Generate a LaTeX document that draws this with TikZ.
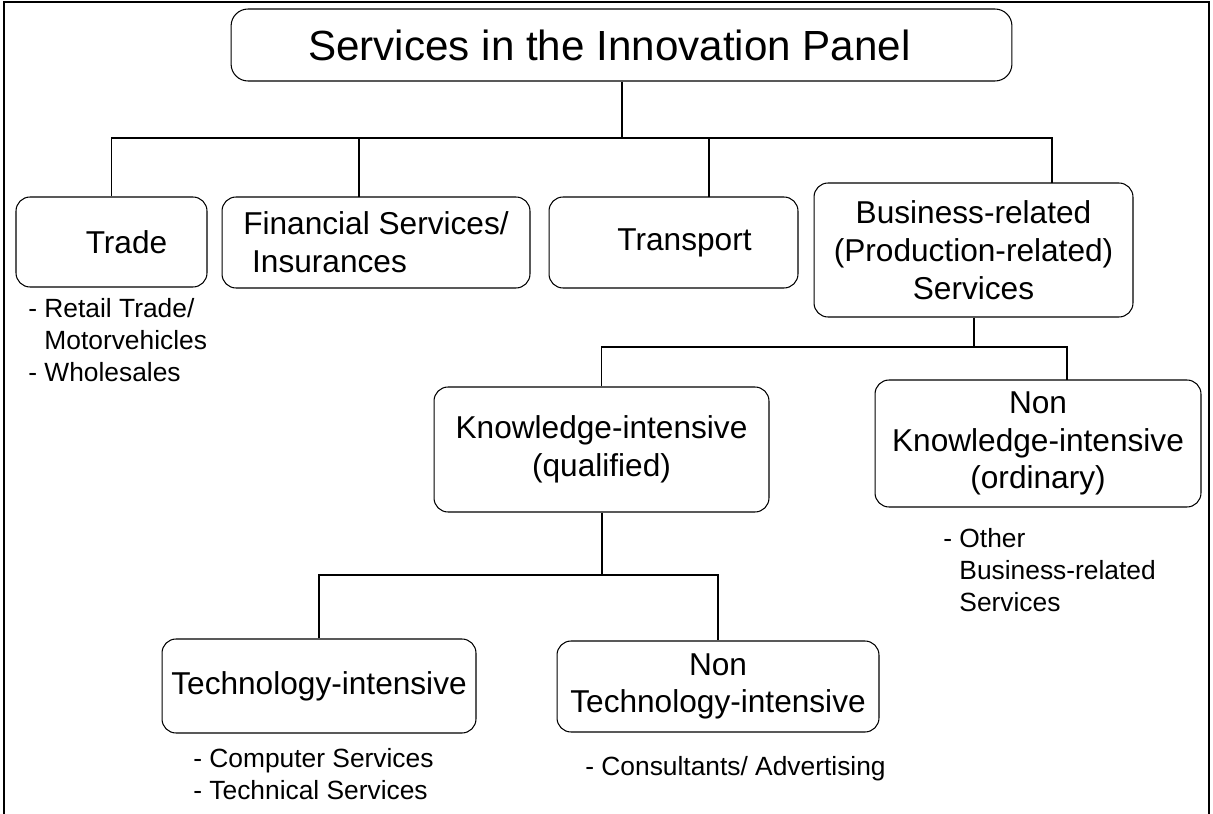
\documentclass[tikz,border=0pt]{standalone}
\usepackage{fontspec}
\setmainfont{Liberation Sans}
\usetikzlibrary{positioning}

\begin{document}
\begin{tikzpicture}[x=0.02cm, y=-0.02cm,
		box/.style={draw, line width=0.6pt, rounded corners=0.28cm, align=center, inner sep=0pt, font=\fontsize{18}{21.5}\selectfont},
		note/.style={align=left, inner sep=0pt, anchor=north west, font=\fontsize{15}{18.2}\selectfont},
		link/.style={draw, line width=0.6pt}]
		\useasboundingbox (0,0) rectangle (1213,814);
		\draw[line width=1.2pt] (4,814) -- (4,2) -- (1209,2) -- (1209,814);

		\node[box, rounded corners=0.34cm, minimum width=15.62cm, minimum height=1.44cm, font=\fontsize{24}{28}\selectfont] (title) at (621.5,45) {Services in the Innovation Panel\hspace*{0.48cm}};

		\node[box, minimum width=3.82cm, minimum height=1.80cm] (trade) at (111.5,242) {\hspace*{0.6cm}Trade};
		\node[box, align=left, minimum width=6.16cm, minimum height=1.82cm] (fin) at (376,242.5) {Financial Services/\\\hspace*{0.28em}Insurances};
		\node[box, minimum width=4.98cm, minimum height=1.82cm] (trans) at (673.5,242.5) {\hspace*{0.44cm}Transport};
		\node[box, minimum width=6.38cm, minimum height=2.68cm] (bus) at (973.5,250) {Business-related\\(Production-related)\\Services};

		\node[box, minimum width=6.70cm, minimum height=2.50cm] (know) at (601.5,449.5) {Knowledge-intensive\\(qualified)};
		\node[box, minimum width=6.52cm, minimum height=2.54cm] (nonknow) at (1038,443.5) {Non\\Knowledge-intensive\\(ordinary)};

		\node[box, minimum width=6.28cm, minimum height=1.88cm] (tech) at (319,686) {Technology-intensive};
		\node[box, minimum width=6.44cm, minimum height=1.82cm] (nontech) at (718,686.5) {Non\\Technology-intensive};

		\node[note] (tradeNote) at (28,298) {- Retail Trade/\\\phantom{- }Motorvehicles\\- Wholesales};
		\node[note] (nonknowNote) at (943,528) {- Other\\\phantom{- }Business-related\\\phantom{- }Services};
		\node[note] (techNote) at (193,748) {- Computer Services\\- Technical Services};
		\node[note] (nontechNote) at (585,756) {- Consultants/ Advertising};

		\coordinate (top) at (622,138);
		\coordinate (finIn) at (359,197);
		\coordinate (transIn) at (709,197);
		\coordinate (busIn) at (1052,183);
		\coordinate (mid) at (974,347);
		\coordinate (nonknowIn) at (1067,380);
		\coordinate (low) at (602,575);

		\path[link]
		(title.south -| top) -- (top)
		(trade.north) |- (top) -| (busIn)
		(finIn) -- (finIn |- top)
		(transIn) -- (transIn |- top)
		;
		\path[link]
		(bus.south -| mid) -- (mid)
		(know.north) |- (mid) -| (nonknowIn)
		;
		\path[link]
		(know.south -| low) -- (low)
		(tech.north) |- (low) -| (nontech.north)
		;
	\end{tikzpicture}
\end{document}
